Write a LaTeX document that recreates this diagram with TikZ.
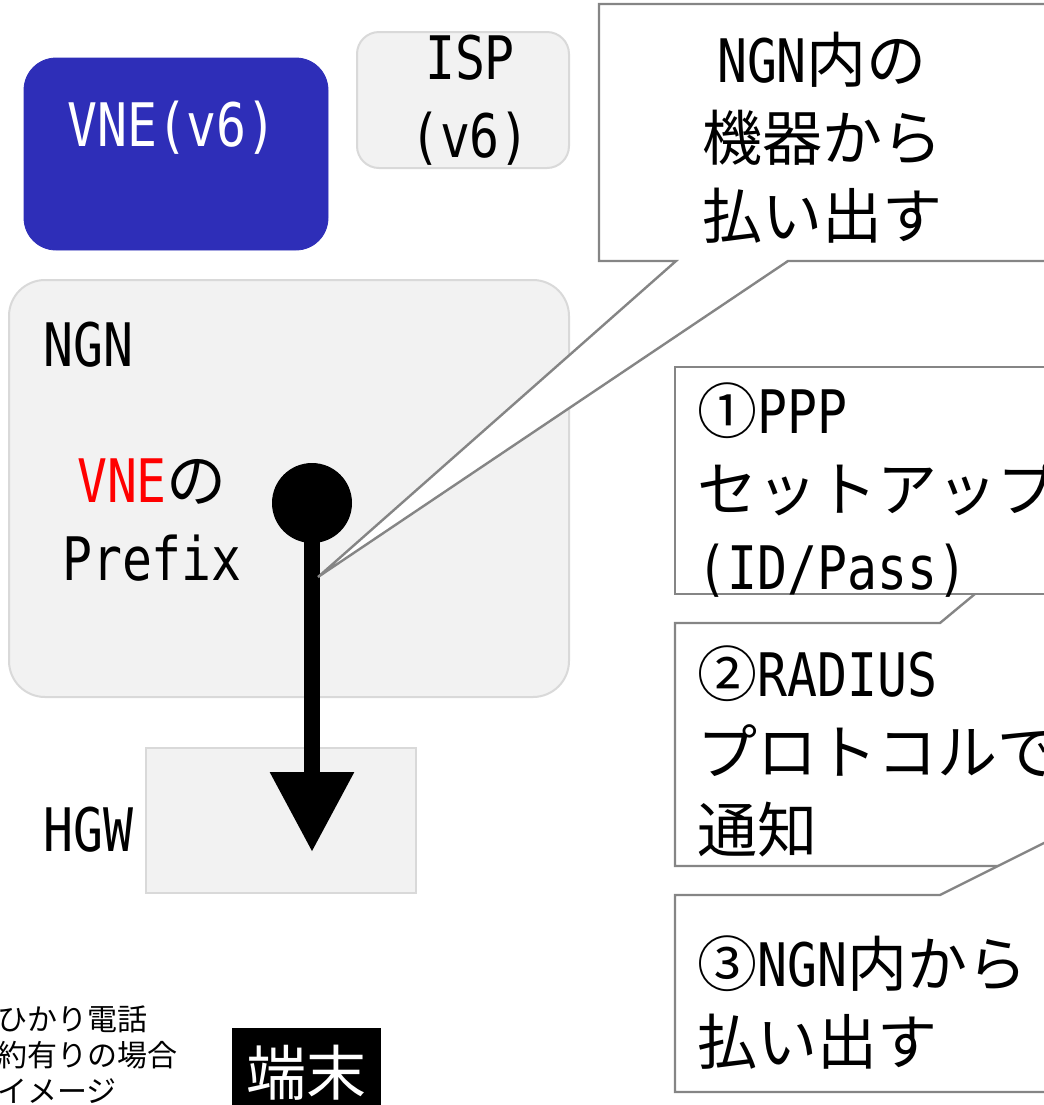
\documentclass[tikz,border=0pt]{standalone}
\usepackage{fontspec}
\setmainfont{Noto Sans CJK JP}
\newfontfamily\halfwidth[FakeStretch = 0.83]{DejaVu Sans Mono}
\newcommand{\hw}[1]{{\halfwidth #1}}
\usetikzlibrary{arrows.meta}
\definecolor{vneblue}{HTML}{2E2EB8}
\definecolor{boxgray}{HTML}{F2F2F2}
\definecolor{boxline}{HTML}{D9D9D9}
\definecolor{calloutgray}{HTML}{858585}

\begin{document}
\begin{tikzpicture}[%
        x = 0.5pt,
        y = -0.5pt,
        line join = miter,
        bigtext/.style = {%
            font = \fontsize{30}{39}\selectfont,
            inner sep = 0pt
        },
        graybox/.style = {%
            fill = boxgray,
            draw = boxline,
            line width = 1pt
        },
        callout/.style = {%
            fill = white,
            draw = calloutgray,
            line width = 1.2pt
        },
        flowarrow/.style = {%
            -{Triangle[length = 40pt, width = 40pt]},
            line width = 8pt,
            draw = black
        }
    ]
        \useasboundingbox (0, 0) rectangle (1044, 1105);
        \clip (0, 0) rectangle (1044, 1105);
        % boxes on the left
        \filldraw[fill = vneblue, draw = vneblue, rounded corners = 16pt] (24, 58) rectangle (328, 250);
        \filldraw[graybox, rounded corners = 11pt] (357, 32) rectangle (569, 168);
        \filldraw[graybox, rounded corners = 18pt] (9, 280) rectangle (569, 697);
        \filldraw[graybox] (146, 748) rectangle (416, 893);
        \node (vne) at (172, 128) [bigtext, text = white] {\hw{VNE(v6)}};
        \node (isp) at (470, 100) [bigtext, align = center] {\hw{ISP}\\\hw{(v6)}};
        \node (ngn) at (43, 345) [bigtext, anchor = west] {\hw{NGN}};
        \node (hgw) at (43, 830) [bigtext, anchor = west] {\hw{HGW}};
        \node (prefix) at (152, 520) [bigtext, align = center] {\textcolor{red}{\hw{VNE}}の\\\hw{Prefix}};
        % prefix handed down to the HGW
        \node (dot) at (312, 503) [circle, fill = black, minimum size = 40pt, inner sep = 0pt] {};
        \coordinate (hgwtip) at (312, 852);
        \draw[flowarrow] (dot.center) to (hgwtip);
        % callouts
        \coordinate (pfxtip) at (318, 577);
        \coordinate (tiptwo) at (1100, 490);
        \coordinate (tipthree) at (1130, 800);
        \draw[callout] (675, 623) -- (940, 623) -- (tiptwo) -- (1060, 623) -- (1110, 623)
            -- (1110, 866) -- (675, 866) -- cycle;
        \draw[callout] (675, 367) -- (1110, 367) -- (1110, 594) -- (675, 594) -- cycle;
        \draw[callout] (675, 895) -- (940, 895) -- (tipthree) -- (1080, 895) -- (1110, 895)
            -- (1110, 1092) -- (675, 1092) -- cycle;
        \draw[callout] (599, 4) -- (1110, 4) -- (1110, 261) -- (788, 261) -- (pfxtip)
            -- (676, 261) -- (599, 261) -- cycle;
        \node (devices) at (822, 138) [bigtext, align = center] {\hw{NGN}内の\\機器から\\払い出す};
        \node (ppp) at (697, 382) [bigtext, anchor = north west, align = left] {①\hw{PPP}\\セットアップ\\\hw{(ID/Pass)}};
        \node (radius) at (697, 645) [bigtext, anchor = north west, align = left] {②\hw{RADIUS}\\プロトコルで\\通知};
        \node (assign) at (697, 935) [bigtext, anchor = north west, align = left] {③\hw{NGN}内から\\払い出す};
        % note and terminal
        \node (note) at (-3, 1005) [anchor = north west, inner sep = 0pt, align = left,
            font = \fontsize{15}{18}\selectfont] {ひかり電話\\約有りの場合\\イメージ};
        \node (term) at (232, 1028) [anchor = north west, fill = black, text = white,
            minimum width = 74.5pt, minimum height = 44pt, inner sep = 0pt,
            font = \fontsize{30}{30}\selectfont] {端末};
    \end{tikzpicture}
\end{document}
